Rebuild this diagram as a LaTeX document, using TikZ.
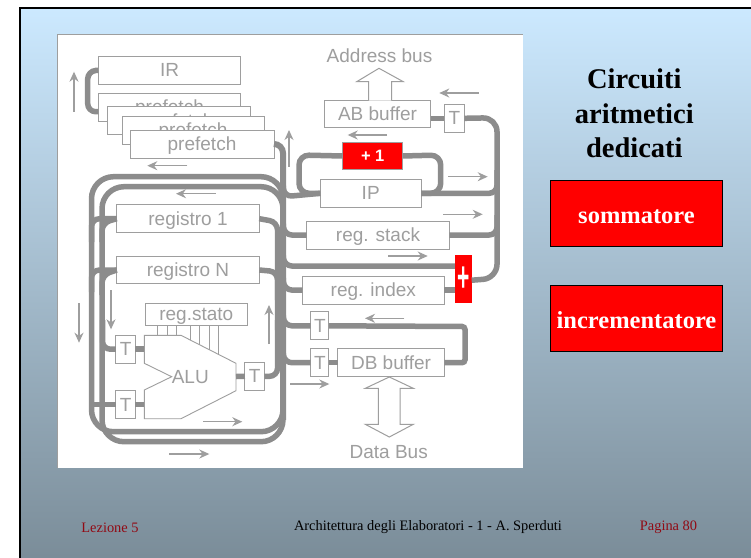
\documentclass[tikz,border=0pt]{standalone}
\usepackage{fontspec}
\setmainfont{Liberation Serif}
\setsansfont{Liberation Sans}
\usepackage{tikz}
\usetikzlibrary{arrows.meta}

\definecolor{topblue}{RGB}{204,233,255}
\definecolor{lowblue}{RGB}{122,140,152}
\definecolor{schemegray}{RGB}{158,158,158}
\definecolor{busgray}{RGB}{140,140,140}
\definecolor{pagered}{RGB}{145,10,20}

\begin{document}
\begin{tikzpicture}[x=1pt, y=-1pt,
	every node/.style={inner sep=0pt, outer sep=0pt},
	regbox/.style={draw=schemegray, line width=1pt, fill=white, text=schemegray, font=\sffamily\fontsize{19}{20}\selectfont, minimum height=28pt, text height=13pt, text depth=0pt},
	tbox/.style={regbox, minimum width=19.5pt},
	redbox/.style={draw=black, line width=1pt, fill=red, text=white, font=\bfseries\fontsize{24.5}{28}\selectfont, minimum width=172pt, minimum height=66.5pt, text height=20pt, text depth=0pt},
	label/.style={text=schemegray, font=\sffamily\fontsize{19}{20}\selectfont},
	foot/.style={font=\fontsize{14.4}{16}\selectfont},
	bus/.style={draw=busgray, line width=5.5pt, rounded corners=8pt},
	loopbus/.style={bus, rounded corners=22pt},
	flow/.style={draw=schemegray, line width=1.1pt, -{Stealth[length=10pt, width=9pt]}},
	wire/.style={draw=schemegray, line width=0.9pt},
	bigarrow/.style={draw=schemegray, line width=1pt, fill=white}]
	\useasboundingbox (0,0) rectangle (751,557);
	
	% slide
	\fill[white] (0,0) rectangle (751,557);
	\begin{scope}
		\clip (0,0) rectangle (751,557);
		\shade[top color=topblue, bottom color=lowblue] (20,8) rectangle (755,562);
		\draw[black, line width=2.2pt] (20,562) -- (20,8) -- (755,8);
	\end{scope}
	\fill[white] (57,34) rectangle (523,468);
	\draw[schemegray, line width=1pt] (57,468) -- (57,34) -- (523,34);
	
	% registers
	\node[regbox, minimum width=142.5pt] (ir) at (169.5,70.3) {IR};
	\node[regbox, minimum width=142.5pt] (pf1) at (169.5,107) {prefetch};
	\node[regbox, minimum width=143.5pt] (pf2) at (179,120.5) {prefetch};
	\node[regbox, minimum width=142pt] (pf3) at (193,130) {prefetch};
	\node[regbox, minimum width=144pt] (pf4) at (202,144) {prefetch};
	\node[regbox, minimum width=142.5pt] (reg1) at (188,218.7) {registro 1};
	\node[regbox, minimum width=142.5pt, minimum height=26.7pt] (regn) at (188,270) {registro N};
	\node[regbox, minimum width=102pt, minimum height=22pt] (stato) at (196.3,314) {reg.stato};
	\node[tbox] (t1) at (125.7,349.2) {T};
	\node[tbox] (t2) at (125.7,404.7) {T};
	\node[tbox] (t3) at (254.7,376.3) {T};
	\node[regbox, minimum width=106.5pt, minimum height=26.5pt] (ab) at (377.5,114) {AB buffer};
	\node[tbox, minimum width=20pt] (tab) at (454.3,118.3) {T};
	\node[regbox, fill=red, text=white, font=\sffamily\bfseries\fontsize{16.5}{18}\selectfont, text height=11.5pt, minimum width=60pt, minimum height=26.5pt] (inc) at (372.7,156) {+ 1};
	\node[regbox, minimum width=100.7pt] (ip) at (370.7,193.3) {IP};
	\node[regbox, minimum width=142.6pt] (stack) at (378,235) {reg. stack};
	\node[regbox, minimum width=142pt, minimum height=27.7pt] (index) at (373.3,290.2) {reg. index};
	\node[draw=none, fill=red, text=white, font=\sffamily\bfseries\fontsize{42}{42}\selectfont, minimum width=16.7pt, minimum height=48.3pt] (add) at (463.3,279.2) {\scalebox{0.5}[1]{+}};
	\node[tbox, minimum width=18.3pt] (t4) at (319.8,325.8) {T};
	\node[tbox, minimum width=18.3pt] (t5) at (319.8,362.7) {T};
	\node[regbox, minimum width=106.6pt] (db) at (391,362.7) {DB buffer};
	
	% ALU
	\draw[wire, fill=white] (144.3,335.3) coordinate (alua) -- (181,335.3) -- (236,363.3) -- (236,390.7) -- (181,418.7) -- (144.3,418.7) -- (144.3,390) -- (171.7,376.7) -- (144.3,363.3) -- cycle;
	\node[label, text height=13pt, text depth=0pt] (alu) at (190.3,376.5) {ALU};
	\coordinate (aluin1) at (144.3,349.2);
	\coordinate (aluin2) at (144.3,404.7);
	\coordinate (aluout) at (236,376.5);
	\foreach \x/\y in {157.7/335.3,167/335.3,176.3/335.3,190.3/340,199.7/344.5,209/349.5,218.3/354}
		\draw[wire] (stato.south -| \x,0) -- (\x,\y);
	
	% buses on the left
	\draw[loopbus] (283,200) -- (283,176.7) -- (91.5,176.7) -- (91.5,431.7) -- (283,431.7) -- (283,400);
	\draw[loopbus] (283,210) -- (283,186.7) -- (102,186.7) -- (102,441.7) -- (283,441.7) -- (283,400);
	\draw[bus, line width=6pt, rounded corners=9pt] (pf4.east) -- (283,144) -- (283,420);
	\draw[bus] (ir.west) -- (87.7,71) -- (87.7,111.7) -- ([yshift=-4.7pt]pf1.west);
	\draw[bus] (reg1.west) -- (91.5,218.7) -- (91.5,242);
	\draw[bus] (reg1.west) -- (102,223) -- (102,242);
	\draw[bus] (regn.west) -- (91.5,270) -- (91.5,292);
	\draw[bus] (regn.west) -- (102,275) -- (102,295);
	\draw[bus] (reg1.east) -- (277.5,222) -- (277.5,300);
	\draw[bus] (regn.east) -- (277.5,271.7) -- (277.5,330);
	\draw[bus] (t3.east) -- (277.5,376.3) -- (277.5,320);
	\draw[bus] (t1.west) -- (102.5,349.2) -- (102.5,320);
	\draw[bus] (t2.west) -- (91.5,404.7);
	\draw[bus] (t1.east) -- (aluin1);
	\draw[bus] (t2.east) -- (aluin2);
	\draw[bus] (t3.west) -- (aluout);
	
	% buses on the right
	\draw[bus] (283,182) -- (284,196.7) -- (ip.west);
	\draw[bus] (283,220) -- (284,235) -- (stack.west);
	\draw[bus] (283,252) -- (284,266) -- (add.west |- 0,266);
	\draw[bus] (283,274) -- (284,290) -- (index.west);
	\draw[bus] (283,312) -- (284,325.8) -- (t4.west);
	\draw[bus] (283,350) -- (284,362.7) -- (t5.west);
	\draw[bus] (ip.east) -- (497,193.3) -- (497,170);
	\draw[bus] (stack.east) -- (497,235) -- (497,215);
	\draw[bus, rounded corners=14pt] (tab.east) -- (497,117.7) -- (497,278.3) -- ([yshift=-1pt]add.east);
	\draw[bus] (ab.east |- tab.west) -- (tab.west);
	\draw[bus, rounded corners=10pt] (inc.west) -- (299,155) -- (299,193.3) -- (ip.west);
	\draw[bus, rounded corners=10pt] (inc.east) -- (440.7,155) -- (440.7,193.3) -- (ip.east);
	\draw[bus] (index.east) -- (add.west |- index.east);
	\draw[bus, rounded corners=3pt] (t4.east) -- (465,326.5) -- (465,362.7) -- (db.east);
	\draw[bus] (t5.east) -- (db.west);
	
	% big arrows
	\draw[bigarrow] (368.7,100.7) -- (368.7,81.7) -- (356.7,81.7) -- (379,68.3) -- (403.3,81.7) -- (391.7,81.7) -- (391.7,100.7);
	\draw[bigarrow] (389.3,377) -- (413.3,388.3) -- (400,388.3) -- (400,424.3) -- (413.3,424.3) -- (389.3,437) -- (365.3,424.3) -- (378.3,424.3) -- (378.3,388.3) -- (365.3,388.3) -- cycle;
	\node[label] (address) at (379.5,55.5) {Address bus};
	\node[label] (data) at (388.7,452) {Data Bus};
	
	% flow arrows
	\draw[flow] (74,111.7) -- (74,71.7);
	\draw[flow] (187.3,165.7) -- (147.3,165.7);
	\draw[flow] (215.7,193.7) -- (176,193.7);
	\draw[flow] (289,166.7) -- (289,130);
	\draw[flow] (478.7,93) -- (439.3,93);
	\draw[flow] (387,135) -- (347.7,135);
	\draw[flow] (448.3,176.7) -- (487.7,176.7);
	\draw[flow] (443.3,214.3) -- (482.7,214.3);
	\draw[flow] (388.3,256) -- (427.7,256);
	\draw[flow] (404.3,318.3) -- (365,318.3);
	\draw[flow] (290,384) -- (329.3,384);
	\draw[flow] (79,303.3) -- (79,342.7);
	\draw[flow] (111,290) -- (111,329.3);
	\draw[flow] (269,344) -- (269,305);
	\draw[flow] (203.3,421.7) -- (242.3,421.7);
	\draw[flow] (169.3,454) -- (209.3,454);
	
	% right column
	\node[align=center, font=\bfseries\fontsize{28.5}{34.5}\selectfont] (title) at (634.3,113.5) {Circuiti\\aritmetici\\dedicati};
	\node[redbox] (sum) at (636.5,213.3) {sommatore};
	\node[redbox] (incr) at (636.5,318.3) {incrementatore};
	
	% footer
	\node[foot, text=pagered] (lesson) at (110,527.5) {Lezione 5};
	\node[foot] (course) at (428,527.5) {Architettura degli Elaboratori - 1 - A. Sperduti};
	\node[foot, text=pagered] (page) at (668.5,527.5) {Pagina 80};
\end{tikzpicture}
\end{document}
